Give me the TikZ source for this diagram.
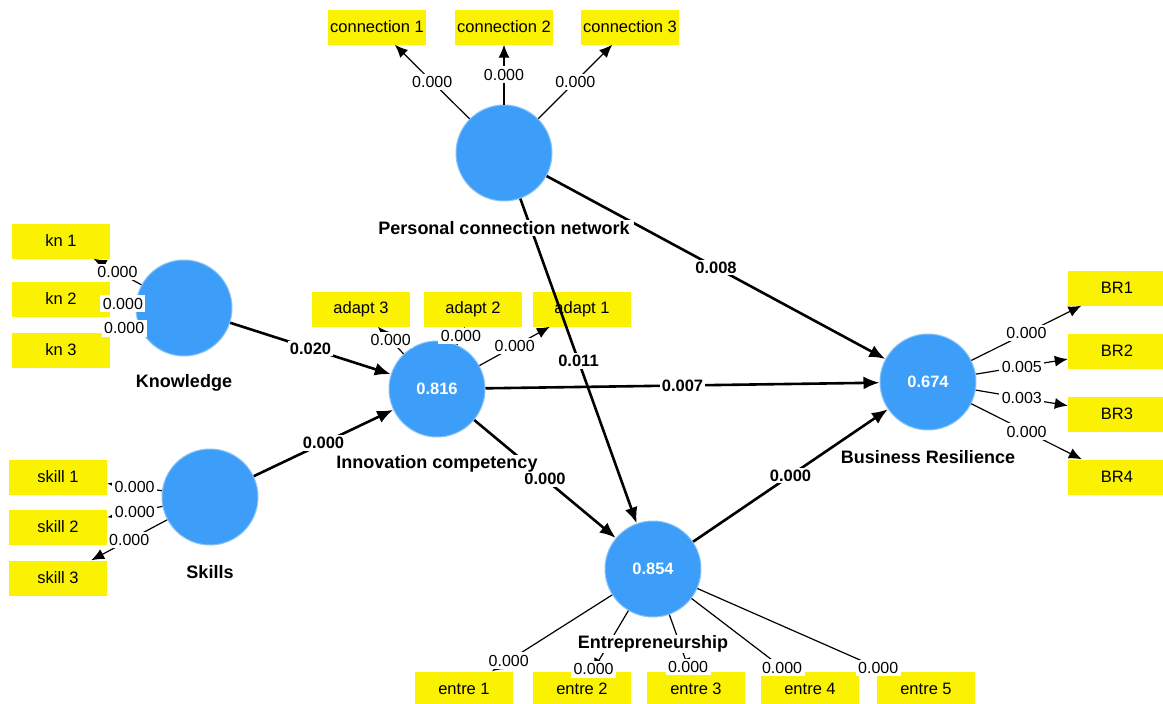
\documentclass[tikz,border=0pt]{standalone}
\usepackage{fontspec}
\setmainfont{Liberation Sans}
\usetikzlibrary{calc,arrows.meta}

\definecolor{lvblue}{RGB}{60,158,248}
\definecolor{lvrim}{RGB}{140,196,246}
\definecolor{mvyellow}{RGB}{250,242,0}

\tikzset{
  lv/.style={circle, fill=lvblue, draw=lvrim, line width=1pt, minimum size=96pt,
    inner sep=0pt, text=white, font=\bfseries\fontsize{16.5}{18}\selectfont},
  mv/.style={rectangle, fill=mvyellow, minimum width=98pt, minimum height=35pt,
    inner sep=0pt, font=\fontsize{16.5}{18}\selectfont},
  lvname/.style={fill=white, inner xsep=4pt, inner ysep=1pt,
    font=\bfseries\fontsize{18}{20}\selectfont},
  inarrow/.style={line width=2.6pt, -{Latex[length=16pt,width=13pt]}},
  outarrow/.style={line width=1.2pt, -{Latex[length=13pt,width=11pt]}},
  coef/.style={fill=white, inner sep=2pt, font=\bfseries\fontsize{16.5}{18}\selectfont},
  load/.style={fill=white, inner sep=2.5pt, font=\fontsize{16}{18}\selectfont},
}

\begin{document}
\begin{tikzpicture}[x=1pt,y=-1pt]
  \useasboundingbox (0,0) rectangle (1163,704);

  %% Latent variables
  \node[lv] (pcn)   at (504,153) {};
  \node[lv] (know)  at (184,308) {};
  \node[lv] (skill) at (210,497) {};
  \node[lv] (innov) at (437,389) {0.816};
  \node[lv] (entre) at (653,569) {0.854};
  \node[lv] (bres)  at (928,382) {0.674};

  %% Indicators
  \foreach \n/\x in {1/377,2/504,3/630}
    \node[mv] (con\n) at (\x,27) {connection \n};
  \foreach \n/\y in {1/241,2/299,3/350}
    \node[mv] (kn\n) at (61,\y) {kn \n};
  \foreach \n/\y in {1/477,2/527,3/578}
    \node[mv] (sk\n) at (58,\y) {skill \n};
  \foreach \n/\x in {3/361,2/473,1/582}
    \node[mv] (ad\n) at (\x,309) {adapt \n};
  \foreach \n/\y in {1/288,2/351,3/414,4/477}
    \node[mv] (br\n) at (1117,\y) {BR\n};
  \foreach \n/\x in {1/464,2/582,3/696,4/810,5/926}
    \node[mv] (en\n) at (\x,689) {entre \n};

  %% Outer model
  \foreach \n in {1,2,3}
    \draw[outarrow] (pcn) -- node[load] {0.000} (con\n);
  \foreach \n in {1,2,3}
    \draw[outarrow] (know) -- node[load] {0.000} (kn\n);
  \foreach \n in {1,2,3}
    \draw[outarrow] (skill) -- node[load] {0.000} (sk\n);
  \foreach \n in {1,2,3}
    \draw[outarrow] (innov) -- node[load] {0.000} (ad\n);
  \foreach \n/\v in {1/0.000,2/0.005,3/0.003,4/0.000}
    \draw[outarrow] (bres) -- node[load] {\v} (br\n);
  \foreach \n/\p in {1/0.86,2/0.97,3/0.92,4/0.95,5/0.96}
    \draw[outarrow] (entre) -- node[load,pos=\p] {0.000} (en\n);

  %% Inner model
  \draw[inarrow] (know)  -- node[coef] {0.020} (innov);
  \draw[inarrow] (skill) -- node[coef] {0.000} (innov);
  \draw[inarrow] (pcn)   -- node[coef] {0.008} (bres);
  \draw[inarrow] (pcn)   -- node[coef] {0.011} (entre);
  \draw[inarrow] (innov) -- node[coef] {0.007} (bres);
  \draw[inarrow] (innov) -- node[coef] {0.000} (entre);
  \draw[inarrow] (entre) -- node[coef] {0.000} (bres);

  %% Construct names
  \foreach \c/\t in {pcn/Personal connection network, know/Knowledge, skill/Skills,
      innov/Innovation competency, entre/Entrepreneurship, bres/Business Resilience}
    \node[lvname] (\c-name) at ($(\c)+(0,75)$) {\t};

\end{tikzpicture}
\end{document}
